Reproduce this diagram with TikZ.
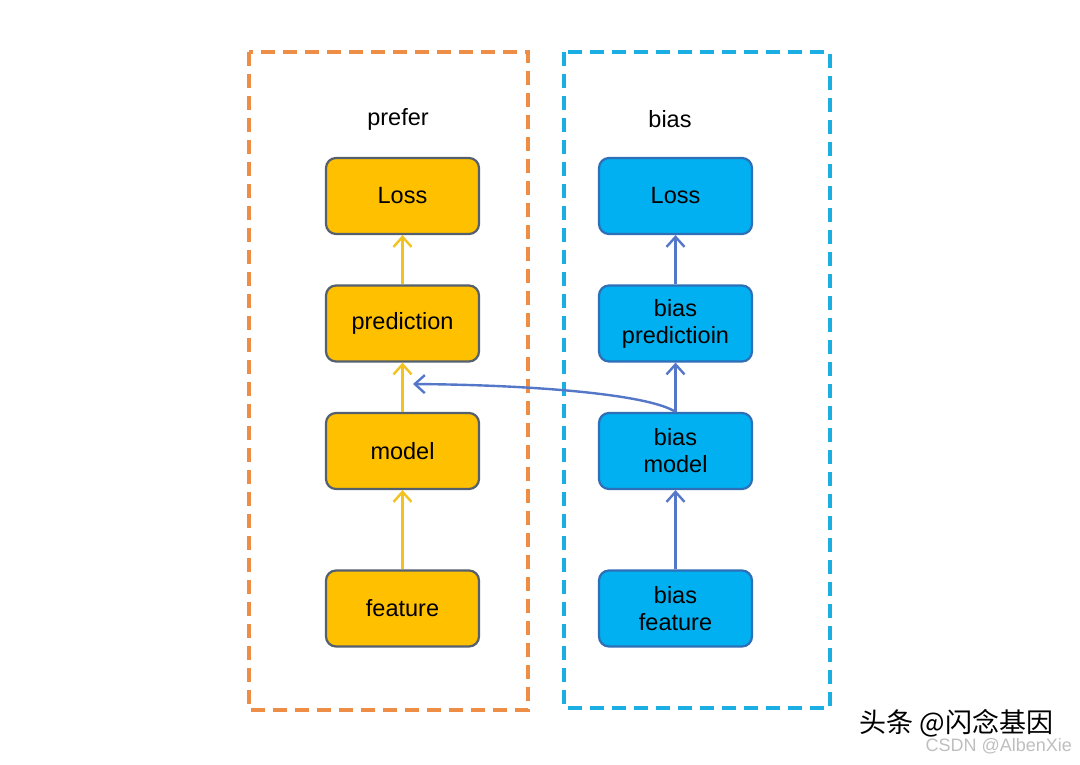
\documentclass[tikz,border=0pt]{standalone}
\usepackage{fontspec}
\setmainfont{Liberation Sans}
\newfontfamily\cjk{Noto Sans CJK SC}
\usetikzlibrary{arrows.meta}
\definecolor{yfill}{HTML}{FFC000}
\definecolor{bfill}{HTML}{00B0F0}
\definecolor{ybord}{HTML}{55606E}
\definecolor{bbord}{HTML}{2E6FB8}
\definecolor{oline}{HTML}{EE8D45}
\definecolor{bline}{HTML}{1AAEE3}
\definecolor{yarrow}{HTML}{F2C21E}
\definecolor{barrow}{HTML}{5577C8}
\tikzset{
  ybox/.style={draw=ybord, fill=yfill, line width=2.2pt, rounded corners=10pt, minimum width=153pt, minimum height=76pt, align=center, font=\fontsize{23.5}{27}\selectfont, inner sep=0pt},
  bbox/.style={draw=bbord, fill=bfill, line width=2.2pt, rounded corners=10pt, minimum width=153pt, minimum height=76pt, align=center, font=\fontsize{23.5}{27}\selectfont, inner sep=0pt},
  frame/.style={line width=4pt, dash pattern=on 14pt off 8pt},
  yarr/.style={draw=yarrow, line width=2.4pt, -{Straight Barb[length=10pt,width=18pt,line width=2.4pt]}},
  barr/.style={draw=barrow, line width=2.4pt, -{Straight Barb[length=10pt,width=18pt,line width=2.4pt]}},
  title/.style={font=\fontsize{23.5}{27}\selectfont}
}
\begin{document}
\begin{tikzpicture}[x=1pt,y=-1pt]
\useasboundingbox[fill=white] (0,0) rectangle (1080,764);
\draw[frame, draw=oline] (249,52) rectangle (528,710);
\draw[frame, draw=bline] (564,52) rectangle (830,708);
\node[title] (tp) at (398,119) {prefer};
\node[title] (tb) at (670,119) {bias};
\node[ybox] (lloss) at (402.5,196) {Loss};
\node[ybox] (lpred) at (402.5,323.5) {prediction};
\node[ybox] (lmod) at (402.5,451) {model};
\node[ybox] (lfeat) at (402.5,608.5) {feature};
\node[bbox] (rloss) at (675.5,196) {Loss};
\node[bbox] (rpred) at (675.5,323.5) {bias\\predictioin};
\node[bbox] (rmod) at (675.5,451) {bias\\model};
\node[bbox] (rfeat) at (675.5,608.5) {bias\\feature};
\draw[yarr] (lpred) -- (lloss);
\draw[yarr] (lmod) -- (lpred);
\draw[yarr] (lfeat) -- (lmod);
\draw[barr] (rpred) -- (rloss);
\draw[barr] (rmod) -- (rpred);
\draw[barr] (rfeat) -- (rmod);
\coordinate (mid) at (413,384);
\draw[barr] (rmod.north) .. controls (650,395) and (540,385) .. (mid);
\node[font=\cjk\fontsize{27}{30}\selectfont, text=black, anchor=west] (wm1) at (856,723) {头条 @闪念基因};
\node[font=\fontsize{18}{20}\selectfont, text=black!25, anchor=west] (wm2) at (922,746) {CSDN @AlbenXie};
\end{tikzpicture}
\end{document}
